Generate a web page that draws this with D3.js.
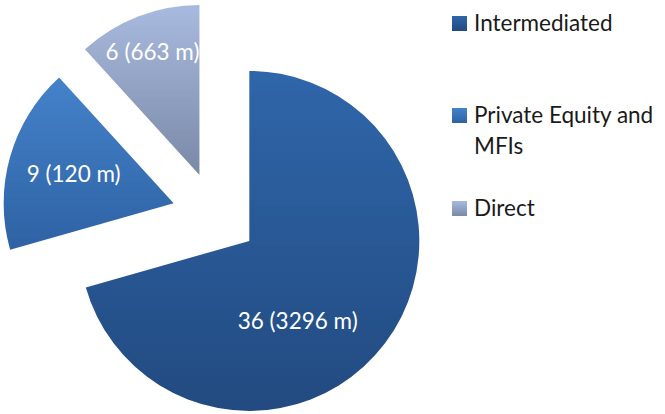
<!DOCTYPE html>
<html>
<head>
<meta charset="utf-8">
<script src="https://cdn.jsdelivr.net/npm/d3@7"></script>
<style>
  body { margin: 0; background: #fff; }
  text { font-family: Lato, "Open Sans", sans-serif; }
</style>
</head>
<body>
<div id="viz"></div>
<script>
/***************** Data *********************/
var categories = ["Intermediated", "Private Equity and MFIs", "Direct"];
var counts = [36, 9, 6];
var amounts = [3296, 120, 663];   // in m
var legendLines = [["Intermediated"], ["Private Equity and", "MFIs"], ["Direct"]];

/***************** Layout / style *********************/
var w = 665, h = 414,
    cx = 215, cy = 215,
    radius = 170,
    explode = 43,
    font_size = 22.5,
    text_color = "#1a1a1a";

// gradient top / bottom colours for each slice
var gradTop = ["#2f66aa", "#4482ca", "#a8badf"];
var gradBottom = ["#224a80", "#2e62a4", "#7a89a6"];

// label placement: angle (deg clockwise from top) and distance from slice apex
var labelAngle = [149, 286, 339];
var labelDist = [94, 104, 131];

var svg = d3.select("#viz")
    .append("svg")
    .attr("width", w)
    .attr("height", h);

var defs = svg.append("defs");
categories.forEach(function(c, i) {
  var g = defs.append("linearGradient")
      .attr("id", "grad" + i)
      .attr("x1", 0).attr("y1", 0)
      .attr("x2", 0).attr("y2", 1);
  g.append("stop").attr("offset", "0%").attr("stop-color", gradTop[i]);
  g.append("stop").attr("offset", "100%").attr("stop-color", gradBottom[i]);
});

var pie = d3.pie().sort(null).value(function(d) { return d; });
var arc = d3.arc().innerRadius(0).outerRadius(radius);
var slices = pie(counts);

var g = svg.append("g")
    .attr("transform", "translate(" + cx + "," + cy + ")");

var sliceG = g.selectAll(".slice")
    .data(slices)
    .enter()
    .append("g")
    .attr("class", "slice")
    .attr("transform", function(d) {
      var a = (d.startAngle + d.endAngle) / 2;
      return "translate(" + (explode * Math.sin(a)) + "," + (-explode * Math.cos(a)) + ")";
    });

sliceG.append("path")
    .attr("d", arc)
    .attr("fill", function(d, i) { return "url(#grad" + i + ")"; });

sliceG.append("text")
    .attr("x", function(d, i) { return labelDist[i] * Math.sin(labelAngle[i] * Math.PI / 180); })
    .attr("y", function(d, i) { return -labelDist[i] * Math.cos(labelAngle[i] * Math.PI / 180); })
    .attr("dy", "0.35em")
    .attr("text-anchor", "middle")
    .style("font-size", font_size + "px")
    .style("fill", "#fff")
    .text(function(d, i) { return counts[i] + " (" + amounts[i] + " m)"; });

/***************** Legend *********************/
var legendX = 452, legendBase = [31, 123, 216], lineH = 31, box = 15;

var legend = svg.selectAll(".legend")
    .data(categories)
    .enter()
    .append("g")
    .attr("class", "legend");

legend.append("rect")
    .attr("x", legendX)
    .attr("y", function(d, i) { return legendBase[i] - box; })
    .attr("width", box)
    .attr("height", box)
    .attr("fill", function(d, i) { return "url(#grad" + i + ")"; });

legend.append("text")
    .attr("x", legendX + 22)
    .attr("y", function(d, i) { return legendBase[i]; })
    .style("font-size", font_size + "px")
    .style("fill", text_color)
    .selectAll("tspan")
    .data(function(d, i) { return legendLines[i]; })
    .enter()
    .append("tspan")
    .attr("x", legendX + 22)
    .attr("dy", function(d, j) { return j === 0 ? 0 : lineH; })
    .text(function(d) { return d; });
</script>
</body>
</html>
